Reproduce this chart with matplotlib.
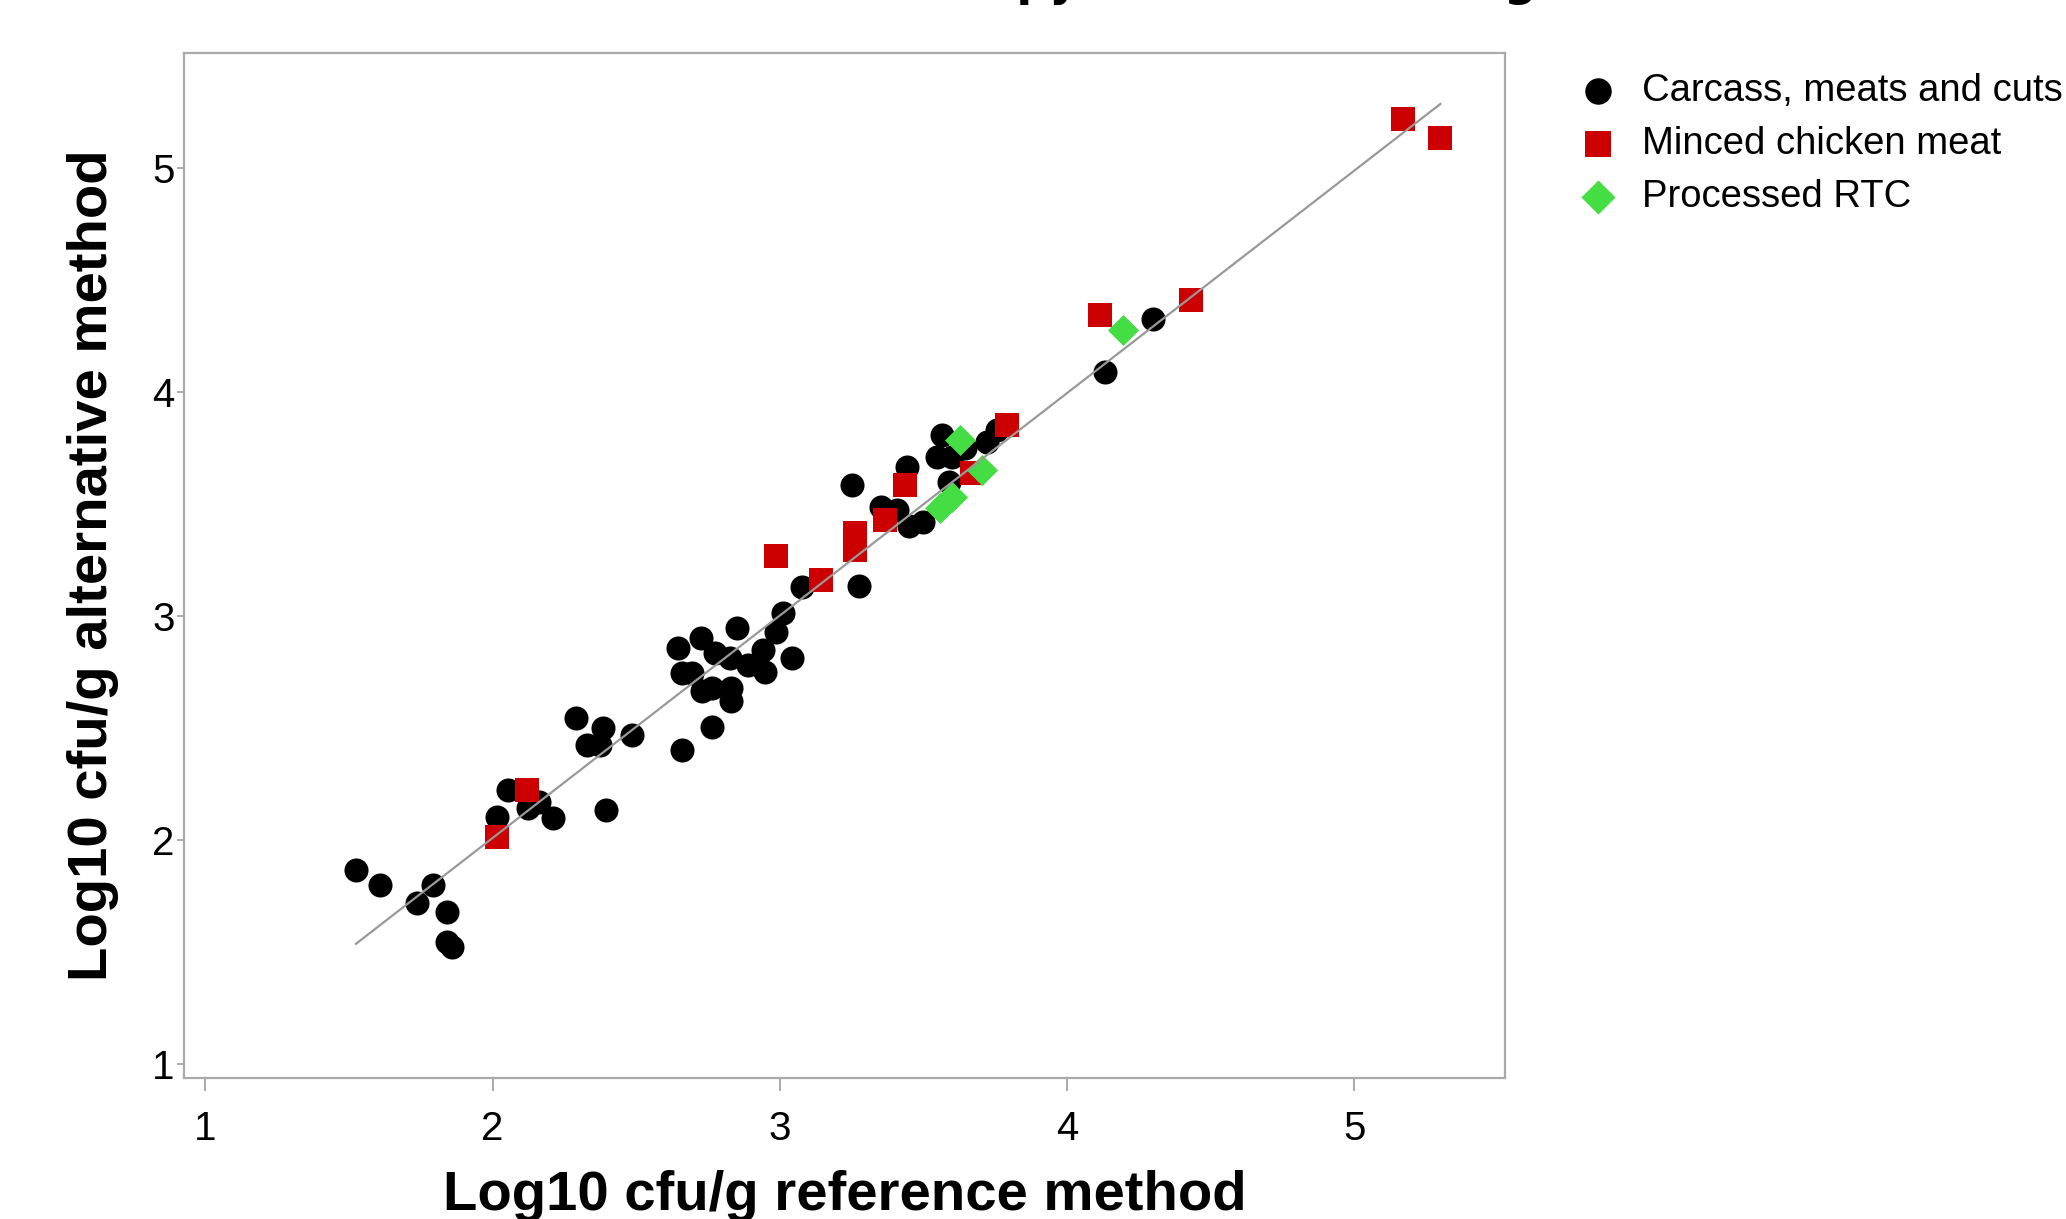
import numpy as np
import matplotlib
matplotlib.use('Agg')
from matplotlib import pyplot as plt

# Carcass, meats and cuts (reference, alternative)
carcass_x = [1.524, 1.608, 1.791, 1.737, 1.842, 1.842, 1.857, 2.014, 2.054, 2.124,
             2.162, 2.211, 2.394, 2.29, 2.385, 2.327, 2.374, 2.487, 2.646, 2.724,
             2.852, 2.658, 2.693, 2.774, 2.826, 2.89, 2.948, 2.942, 2.986, 3.012,
             3.041, 3.076, 2.728, 2.763, 2.83, 2.83, 2.763, 2.658, 3.25, 3.277,
             3.444, 3.354, 3.407, 3.45, 3.50, 3.588, 3.563, 3.546, 3.598, 3.645,
             3.72, 3.755, 4.132, 4.30]
carcass_y = [1.866, 1.799, 1.80, 1.717, 1.68, 1.546, 1.524, 2.104, 2.223, 2.141,
             2.171, 2.097, 2.134, 2.543, 2.499, 2.424, 2.424, 2.469, 2.856, 2.90,
             2.945, 2.744, 2.744, 2.833, 2.811, 2.781, 2.751, 2.848, 2.93, 3.012,
             2.811, 3.131, 2.663, 2.677, 2.68, 2.62, 2.506, 2.402, 3.585, 3.134,
             3.667, 3.488, 3.473, 3.40, 3.42, 3.60, 3.808, 3.711, 3.711, 3.749,
             3.778, 3.83, 4.088, 4.326]

# Minced chicken meat
minced_x = [2.016, 2.12, 2.986, 3.143, 3.261, 3.261, 3.366, 3.436, 3.668, 3.79,
            4.115, 4.432, 5.169, 5.30]
minced_y = [2.015, 2.223, 3.268, 3.162, 3.369, 3.295, 3.429, 3.585, 3.637, 3.853,
            4.344, 4.411, 5.22, 5.134]

# Processed RTC
rtc_x = [3.557, 3.598, 3.627, 3.703, 4.196]
rtc_y = [3.48, 3.53, 3.786, 3.652, 4.277]

# regression line
fit_slope = 0.993
fit_intercept = 0.023

title = "Correlation of Campylobacter counting"
labels = ["Carcass, meats and cuts", "Minced chicken meat", "Processed RTC"]
ticks = [1, 2, 3, 4, 5]

fig = plt.figure(figsize=(20.66, 12.19), dpi=100)
ax = fig.add_axes([0.0893, 0.1158, 0.6390, 0.8410])

ax.scatter(carcass_x, carcass_y, s=300, marker='o', color='black', linewidths=0,
           label=labels[0], zorder=2)
ax.scatter(minced_x, minced_y, s=282, marker='s', color='#CC0000', linewidths=0,
           label=labels[1], zorder=3)
ax.scatter(rtc_x, rtc_y, s=250, marker='D', color='#44DD44', linewidths=0,
           label=labels[2], zorder=4)

all_x = np.array(carcass_x + minced_x + rtc_x)
line_x = np.array([all_x.min(), all_x.max()])
ax.plot(line_x, fit_slope * line_x + fit_intercept, color='#999999', lw=1.6, zorder=5)

ax.set_xlim(0.927, 5.524)
ax.set_ylim(0.938, 5.515)
ax.set_xticks(ticks)
ax.set_yticks(ticks)

for sp in ax.spines.values():
    sp.set_color('#AAAAAA')
    sp.set_linewidth(1.6)
ax.tick_params(axis='both', direction='out', width=1.4, color='#AAAAAA', labelsize=29)
ax.tick_params(axis='x', length=9, pad=14)
ax.tick_params(axis='y', length=5, pad=2)
for lab in ax.get_xticklabels() + ax.get_yticklabels():
    lab.set_family('Liberation Sans')

ax.set_xlabel("Log10 cfu/g reference method", fontsize=40.5, fontweight='bold',
              family='Liberation Sans', labelpad=16)
ax.set_ylabel("Log10 cfu/g alternative method", fontsize=40.5, fontweight='bold',
              family='Liberation Sans', labelpad=24)

leg = ax.legend(loc='upper left', bbox_to_anchor=(0.755, 0.956),
                bbox_transform=fig.transFigure, frameon=False, borderpad=0,
                handlelength=1.0, handletextpad=0.65, labelspacing=0.45,
                markerscale=1.1, prop={'family': 'Liberation Sans', 'size': 27.5})

# title sits mostly above the canvas, as in the reference
fig.text(0.5, 1.004, title, ha='center', va='baseline', fontsize=33,
         fontweight='bold', family='DejaVu Sans')

fig.savefig('out.png', dpi=100)
